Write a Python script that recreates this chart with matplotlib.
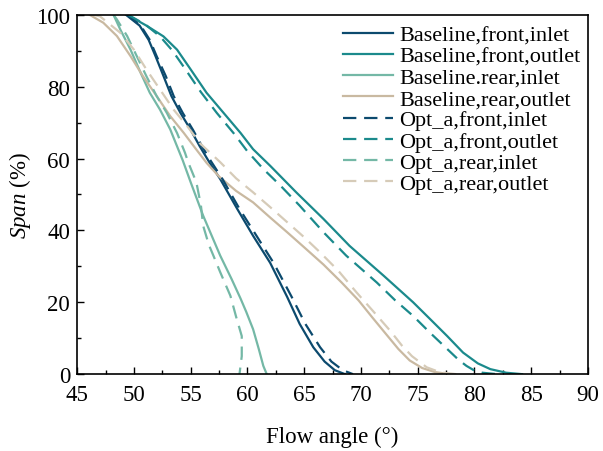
import numpy as np
import matplotlib
matplotlib.use("Agg")
import matplotlib.pyplot as plt
from matplotlib.ticker import MultipleLocator

plt.rcParams['font.family'] = 'Liberation Serif'
plt.rcParams['mathtext.fontset'] = 'custom'
plt.rcParams['mathtext.it'] = 'Liberation Serif:italic'
plt.rcParams['mathtext.rm'] = 'Liberation Serif'

# Baseline curves (flow angle, span)
bfi_x = [49.3, 50.5, 51.3, 51.9, 52.6, 53.3, 54.1, 55.0, 55.8, 56.6, 57.6, 59.1,
         60.5, 62.0, 63.5, 64.6, 65.8, 66.8, 67.7, 68.6]
bfi_y = [100, 97, 93, 88.5, 83, 77.4, 72.7, 68, 63.4, 59.2, 54.3, 46,
         38.5, 31, 21.5, 14, 7.5, 3.5, 1.1, 0]

bfo_x = [49.4, 51.1, 52.6, 53.8, 55.0, 56.4, 57.9, 59.4, 60.5, 62.0, 64.3, 66.7,
         69.0, 72.0, 74.6, 76.2, 77.6, 79.0, 80.3, 81.4, 82.8, 84.2]
bfo_y = [100, 97, 94, 90.3, 84.8, 78.3, 72.7, 67.1, 62.6, 58, 50.6, 43.2,
         35.7, 27.4, 20, 15, 10.6, 6, 3, 1.4, 0.4, 0]

bri_x = [48.2, 48.8, 49.7, 50.6, 51.4, 52.3, 53.2, 53.8, 54.3, 55.0, 56.1, 57.6,
         58.6, 59.4, 59.9, 60.5, 61.0, 61.4, 61.7]
bri_y = [100, 95.9, 90.3, 83.8, 78.3, 73.6, 68.1, 63.4, 59.5, 53.4, 44.1, 33,
         26.5, 21, 17.3, 12.5, 7, 2.3, 0]

bro_x = [46.1, 47.3, 48.5, 49.7, 50.8, 52.0, 53.2, 54.4, 55.5, 56.4, 57.5, 59.0,
         60.5, 62.0, 63.5, 65.0, 66.7, 68.3, 69.8, 71.0, 72.2, 73.3, 74.3, 75.4,
         76.5, 77.8]
bro_y = [100, 97.8, 94.1, 88.5, 82.9, 77.4, 71.8, 67.1, 62.5, 58.8, 55, 51,
         47.8, 43.6, 39.5, 35.3, 30.5, 25.5, 20.5, 15.8, 11.2, 7, 3.8, 1.7,
         0.6, 0]

# Opt_a curves
ofi_x = [49.4, 50.6, 51.4, 52.0, 52.8, 53.5, 54.3, 55.2, 56.0, 56.8, 57.8, 59.3,
         60.8, 62.3, 63.9, 65.1, 66.4, 67.4, 68.4, 69.3]
ofi_y = [100, 97, 93, 88.5, 83, 77.4, 72.7, 68, 63.4, 59.2, 54.3, 46,
         38.5, 31, 21.5, 14, 7.5, 3.5, 1.1, 0]

ofo_x = [49.5, 51.0, 52.3, 53.4, 54.5, 55.9, 57.3, 58.8, 60.0, 61.4, 62.9, 64.6,
         66.7, 68.7, 71.4, 73.0, 74.6, 76.1, 77.6, 78.6, 79.3, 80.0, 80.7, 82.0]
ofo_y = [100, 97.3, 94, 90, 85, 78.5, 72.7, 67, 62, 57.1, 52.5, 46.9,
         39.5, 33, 25.5, 20.6, 16.2, 11.5, 7, 4, 2.3, 1.0, 0.4, 0]

ori_x = [48.2, 48.5, 49.4, 50.25, 51.1, 52.0, 52.9, 53.8, 54.5, 54.8, 55.5, 55.9,
         56.1, 56.6, 57.0, 57.6, 58.5, 59.0, 59.5, 59.5, 59.3]
ori_y = [100, 98.7, 94.1, 88.5, 82.9, 77.4, 72.7, 67.1, 61.6, 58.8, 53.4, 47,
         41.3, 36, 33, 28.4, 21.8, 16, 10.6, 5, 0]

oro_x = [46.4, 47.0, 48.8, 50.0, 51.1, 52.3, 53.5, 54.7, 55.8, 57.6, 59.0, 60.5,
         62.0, 63.5, 65.0, 66.4, 68.0, 69.6, 71.0, 72.6, 73.6, 74.5, 75.8, 77.0,
         78.4]
oro_y = [100, 99.6, 95, 90.3, 84.8, 79.2, 73.6, 69, 64.3, 59, 54.5, 50.6,
         46.5, 42.3, 38.1, 33.9, 28.8, 22.8, 17.8, 12, 8, 5, 1.9, 0.5, 0]

labels = ['Baseline,front,inlet', 'Baseline,front,outlet', 'Baseline.rear,inlet',
          'Baseline,rear,outlet', 'Opt_a,front,inlet', 'Opt_a,front,outlet',
          'Opt_a,rear,inlet', 'Opt_a,rear,outlet']

c_navy = '#0c4a6e'
c_teal = '#1b8a8c'
c_lteal = '#74b8a6'
c_tan = '#c9b9a1'
c_ltan = '#d6cbb8'

fig = plt.figure(figsize=(6.03, 4.52), dpi=100)
ax = fig.add_axes([0.128, 0.170, 0.847, 0.795])

lw = 1.6
dash = (0, (6, 3.5))
ax.plot(bfi_x, bfi_y, color=c_navy, lw=lw, label=labels[0])
ax.plot(bfo_x, bfo_y, color=c_teal, lw=lw, label=labels[1])
ax.plot(bri_x, bri_y, color=c_lteal, lw=lw, label=labels[2])
ax.plot(bro_x, bro_y, color=c_tan, lw=lw, label=labels[3])
ax.plot(ofi_x, ofi_y, color=c_navy, lw=lw, ls=dash, label=labels[4])
ax.plot(ofo_x, ofo_y, color=c_teal, lw=lw, ls=dash, label=labels[5])
ax.plot(ori_x, ori_y, color=c_lteal, lw=lw, ls=dash, label=labels[6])
ax.plot(oro_x, oro_y, color=c_ltan, lw=lw, ls=dash, label=labels[7])

ax.set_xlim(45, 90)
ax.set_ylim(0, 100)
ax.xaxis.set_major_locator(MultipleLocator(5))
ax.xaxis.set_minor_locator(MultipleLocator(2.5))
ax.yaxis.set_major_locator(MultipleLocator(20))
ax.yaxis.set_minor_locator(MultipleLocator(10))
ax.tick_params(which='both', direction='in', top=False, right=False, labelsize=16.5)
ax.tick_params(axis='x', pad=7)
ax.tick_params(axis='y', pad=5)
ax.tick_params(which='major', length=5, width=1)
ax.tick_params(which='minor', length=3, width=1)
for s in ax.spines.values():
    s.set_linewidth(1.2)

ax.set_xlabel('Flow angle (°)', fontsize=16.5, labelpad=15)
ax.set_ylabel(r'$\mathit{Span}$ (%)', fontsize=16.5, labelpad=2)

ax.legend(loc='upper left', frameon=False, fontsize=16, handlelength=2.25,
          handletextpad=0.3, labelspacing=0.03, borderaxespad=0, borderpad=0,
          bbox_to_anchor=(0.52, 0.972))

fig.savefig('out.png', dpi=100)
